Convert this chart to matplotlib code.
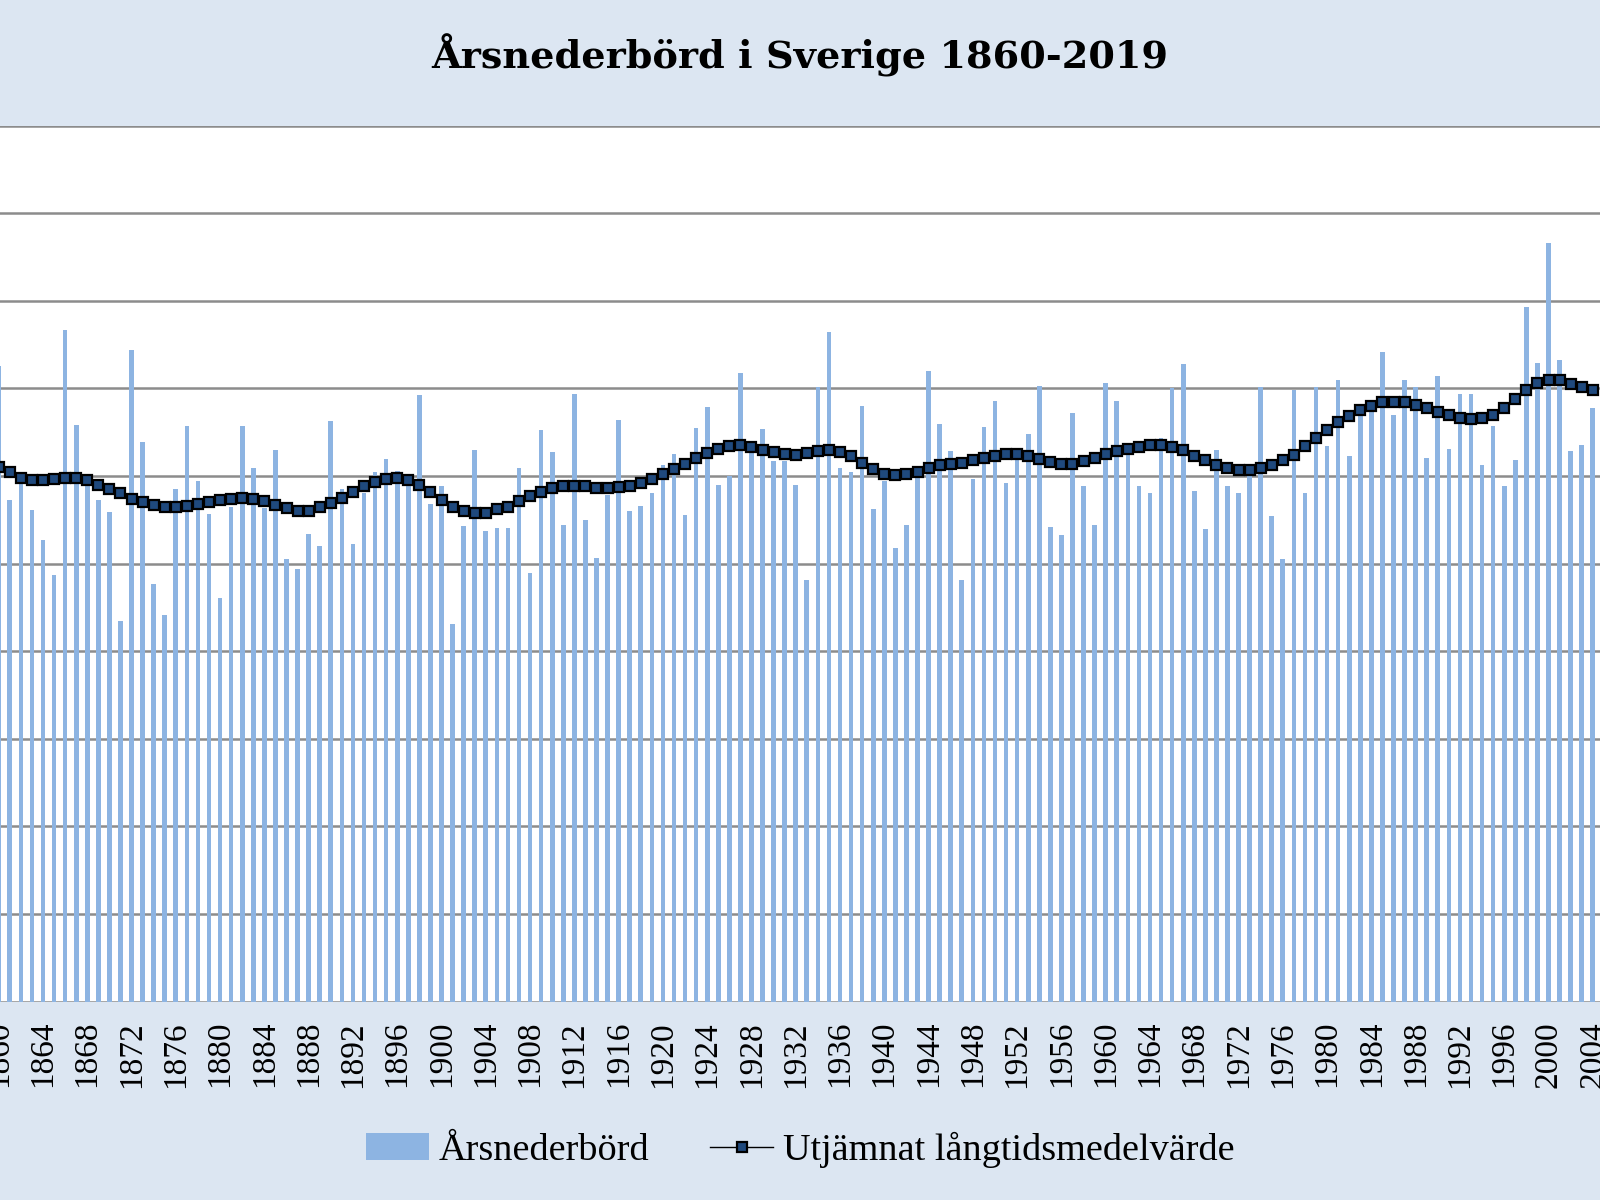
import matplotlib
matplotlib.use("Agg")
import matplotlib.pyplot as plt
from matplotlib.patches import Patch
from matplotlib.lines import Line2D
import numpy as np

years = list(range(1860, 2005))

precip = [
    725, 573, 595, 561, 527, 487, 767, 658, 590, 573,   # 1860-1869
    559, 434, 744, 639, 477, 441, 585, 657, 594, 556,   # 1870-1879
    461, 565, 657, 609, 563, 630, 505, 494, 534, 520,   # 1880-1889
    663, 585, 522, 580, 605, 619, 606, 592, 692, 568,   # 1890-1899
    588, 431, 543, 629, 537, 541, 541, 609, 489, 652,   # 1900-1909
    627, 544, 693, 550, 506, 578, 664, 560, 566, 580,   # 1910-1919
    613, 625, 555, 655, 679, 590, 600, 717, 628, 654,   # 1920-1929
    617, 617, 590, 481, 701, 764, 609, 604, 680, 562,   # 1930-1939
    594, 518, 544, 600, 720, 659, 628, 481, 596, 656,   # 1940-1949
    685, 592, 621, 648, 703, 542, 532, 672, 589, 544,   # 1950-1959
    706, 685, 626, 588, 581, 643, 700, 728, 583, 539,   # 1960-1969
    629, 589, 580, 602, 701, 554, 505, 698, 580, 701,   # 1970-1979
    634, 710, 623, 668, 673, 741, 670, 709, 701, 620,   # 1980-1989
    714, 631, 694, 694, 612, 657, 589, 618, 793, 729,   # 1990-1999
    866, 732, 628, 635, 677,                            # 2000-2004
]

smoothed = [
    610, 604, 598, 595, 595, 597, 598, 598, 595, 590,   # 1860-1869
    585, 580, 574, 570, 567, 565, 565, 566, 568, 570,   # 1870-1879
    572, 574, 575, 574, 571, 567, 563, 560, 560, 564,   # 1880-1889
    569, 575, 582, 588, 593, 597, 598, 595, 590, 582,   # 1890-1899
    573, 565, 560, 558, 558, 562, 565, 571, 577, 582,   # 1900-1909
    586, 588, 589, 588, 586, 586, 587, 589, 592, 597,   # 1910-1919
    602, 608, 614, 621, 626, 631, 634, 635, 633, 630,   # 1920-1929
    627, 625, 624, 626, 628, 629, 627, 623, 615, 608,   # 1930-1939
    602, 601, 602, 605, 609, 612, 614, 615, 618, 621,   # 1940-1949
    623, 625, 625, 623, 619, 616, 614, 614, 617, 621,   # 1950-1959
    625, 628, 631, 633, 635, 635, 633, 629, 623, 618,   # 1960-1969
    612, 609, 607, 607, 609, 613, 618, 624, 634, 643,   # 1970-1979
    652, 661, 668, 675, 680, 684, 684, 684, 681, 677,   # 1980-1989
    673, 669, 666, 665, 666, 669, 677, 688, 698, 706,   # 1990-1999
    710, 709, 705, 701, 698,                            # 2000-2004
]

tick_years = list(range(1860, 2020, 4))

title = "Årsnederbörd i Sverige 1860-2019"
label_bars = "Årsnederbörd"
label_line = "Utjämnat långtidsmedelvärde"

BG = "#DCE6F2"
BAR = "#8DB4E2"
MARK = "#1F497D"
GRID = "#8C8C8C"

W, H = 1600, 1200
fig = plt.figure(figsize=(16, 12), dpi=100, facecolor=BG)

# axes extend past the figure edges (chart is cropped in the reference)
slot = 11.07
x_first = -1.3
left_px = x_first - 0.5 * slot
width_px = 160 * slot
top_px, bot_px = 125.5, 1001.5
ax = fig.add_axes([left_px / W, 1 - bot_px / H, width_px / W, (bot_px - top_px) / H])
ax.set_facecolor("white")

ax.bar(years, precip, width=0.42, color=BAR, zorder=2)
ax.plot(years, smoothed, color="black", lw=1.0, marker="s", ms=7.5,
        mfc=MARK, mec="black", mew=1.6, zorder=3)

ax.set_xlim(1859.5, 2019.5)
ax.set_ylim(0, 1000)
ax.set_yticks(range(0, 1001, 100))
ax.yaxis.grid(True, color=GRID, lw=1.8, zorder=1)
ax.set_axisbelow(True)
for s in ax.spines.values():
    s.set_visible(False)
ax.tick_params(axis="y", left=False, labelleft=False)
ax.set_xticks(tick_years)
ax.set_xticklabels([str(y) for y in tick_years], rotation=90,
                   fontfamily="Liberation Serif", fontsize=24)
ax.tick_params(axis="x", length=0, pad=14)

fig.text(0.5, 1 - 55 / H, title, ha="center", va="center",
         fontsize=27.5, fontweight="bold", fontfamily="DejaVu Serif")

handles = [Patch(facecolor=BAR, edgecolor="none"),
           Line2D([0], [0], color="black", lw=1.0, marker="s", ms=7.5,
                  mfc=MARK, mec="black", mew=1.6)]
fig.legend(handles, [label_bars, label_line], loc="center",
           bbox_to_anchor=(0.5, 1 - 1150 / H), ncol=2, frameon=False,
           prop={"family": "Liberation Serif", "size": 27.5},
           handlelength=1.65, handleheight=0.7, columnspacing=1.6, handletextpad=0.25)

fig.savefig("out.png", dpi=100, facecolor=BG)
